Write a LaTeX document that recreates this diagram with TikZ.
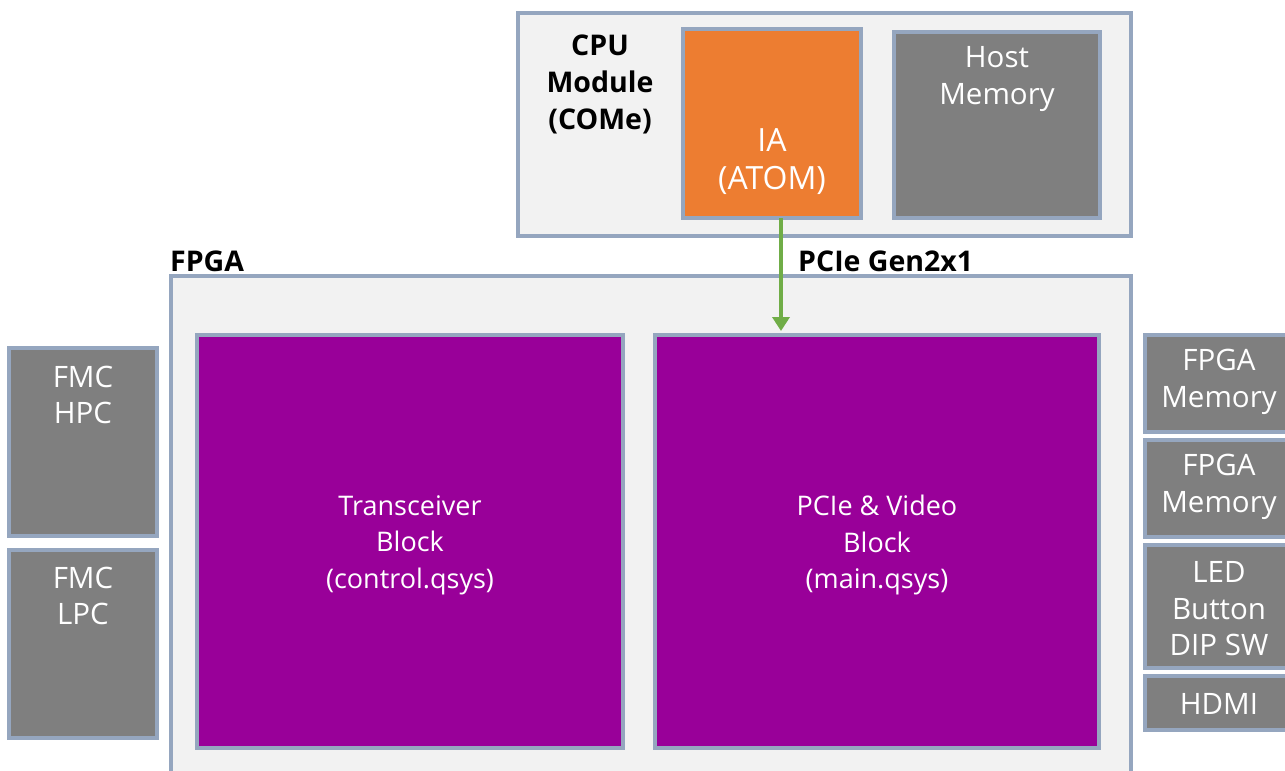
\documentclass[tikz,border=0pt]{standalone}
\usepackage{fontspec}
\setmainfont{Open Sans}
\usetikzlibrary{arrows.meta}
\definecolor{edge}{RGB}{149,166,191}
\definecolor{panel}{RGB}{242,242,242}
\definecolor{block}{RGB}{127,127,127}
\definecolor{logic}{RGB}{153,0,153}
\definecolor{cpu}{RGB}{237,125,49}
\definecolor{link}{RGB}{112,173,71}
\tikzset{
  frame/.style={draw=edge, line width=3.2pt, fill=panel, inner sep=0pt},
  greybox/.style={draw=edge, line width=3.2pt, fill=block, inner sep=0pt},
  logicbox/.style={draw=edge, line width=3.2pt, fill=logic, inner sep=0pt},
  cpubox/.style={draw=edge, line width=3.2pt, fill=cpu, inner sep=0pt},
  wtxt/.style={text=white, align=center, inner sep=0pt, font=\fontsize{27}{36.5}\selectfont},
  gtxt/.style={wtxt, font=\fontsize{29.5}{36.5}\selectfont},
  iatxt/.style={wtxt, font=\fontsize{32}{38}\selectfont},
  btxt/.style={text=black, align=center, inner sep=0pt, font=\bfseries\fontsize{28.5}{37}\selectfont},
}
\begin{document}
\begin{tikzpicture}[x=1pt,y=-1pt]
\clip (0,0) rectangle (1285,771);
\fill[white] (0,0) rectangle (1285,771);

% CPU module
\draw[frame] (518,13) rectangle (1131,236);
\node[btxt] (cpulbl) at (600,84) {CPU\\Module\\(COMe)};
\draw[cpubox] (683,29) rectangle (861,218);
\coordinate (ia) at (772,218);
\node[iatxt] (iatxt) at (772,162) {IA\\(ATOM)};
\draw[greybox] (894,32) rectangle (1100,218);
\node[gtxt] (hostmem) at (997,79) {Host\\Memory};

% FPGA
\node[btxt, anchor=west] (fpgalbl) at (170,261) {FPGA};
\node[btxt, anchor=west] (pcielbl) at (798,261) {PCIe Gen2x1};
\draw[frame] (171,276) rectangle (1131,800);
\draw[logicbox] (197,335) rectangle (623,748);
\node[wtxt] (xcvr) at (410,545) {Transceiver\\Block\\(control.qsys)};
\draw[logicbox] (655,335) rectangle (1099,748);
\node[wtxt] (pcievid) at (877,545) {PCIe \& Video\\Block\\(main.qsys)};

% PCIe link
\coordinate (tipend) at (781,331);
\draw[link, line width=4pt, -{Triangle[length=14pt,width=17pt]}] (ia -| tipend) -- (tipend);

% FMC connectors
\draw[greybox] (9,348) rectangle (157,536);
\node[gtxt] (hpc) at (83,395) {FMC\\HPC};
\draw[greybox] (9,550) rectangle (157,738);
\node[gtxt] (lpc) at (83,596) {FMC\\LPC};

% board peripherals
\draw[greybox] (1145,335) rectangle (1300,432);
\node[gtxt] (mem1) at (1219,382) {FPGA\\Memory};
\draw[greybox] (1145,440) rectangle (1300,537);
\node[gtxt] (mem2) at (1219,487) {FPGA\\Memory};
\draw[greybox] (1145,545) rectangle (1300,668);
\node[gtxt] (io) at (1219,609) {LED\\Button\\DIP SW};
\draw[greybox] (1145,676) rectangle (1300,730);
\node[gtxt] (hdmi) at (1219,704) {HDMI};
\end{tikzpicture}
\end{document}
